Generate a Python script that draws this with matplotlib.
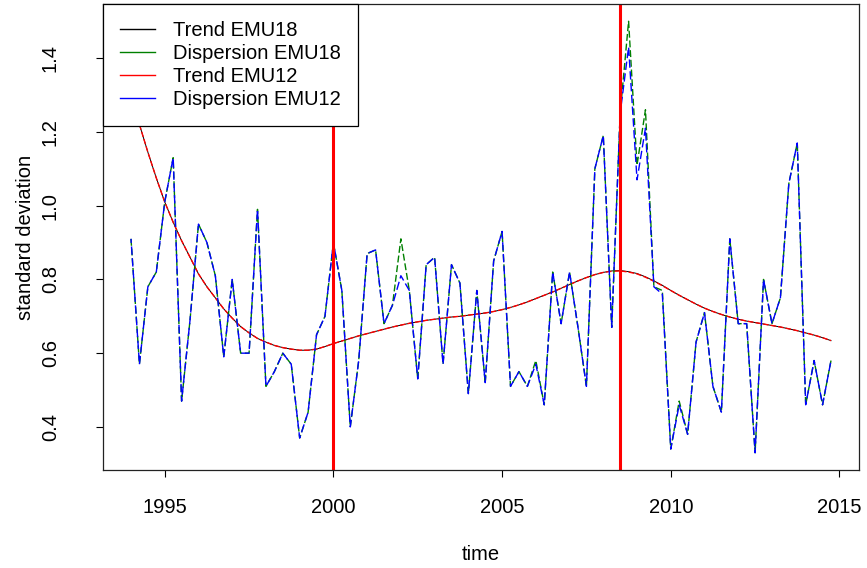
import numpy as np
import matplotlib.pyplot as plt
from matplotlib.lines import Line2D

plt.rcParams["font.family"] = ["Liberation Sans", "DejaVu Sans"]

# quarterly series, 1994Q1 .. 2014Q4
time = np.arange(1994, 2015, 0.25)

disp_emu12 = [
    0.91, 0.57, 0.78, 0.82,   # 1994
    1.01, 1.13, 0.47, 0.69,   # 1995
    0.95, 0.90, 0.81, 0.59,   # 1996
    0.80, 0.60, 0.60, 0.99,   # 1997
    0.51, 0.55, 0.60, 0.57,   # 1998
    0.37, 0.44, 0.65, 0.70,   # 1999
    0.90, 0.77, 0.40, 0.58,   # 2000
    0.87, 0.88, 0.68, 0.73,   # 2001
    0.81, 0.77, 0.53, 0.84,   # 2002
    0.86, 0.57, 0.84, 0.79,   # 2003
    0.49, 0.77, 0.52, 0.85,   # 2004
    0.93, 0.51, 0.55, 0.51,   # 2005
    0.57, 0.46, 0.82, 0.68,   # 2006
    0.82, 0.67, 0.51, 1.10,   # 2007
    1.19, 0.67, 1.25, 1.43,   # 2008
    1.07, 1.21, 0.78, 0.76,   # 2009
    0.34, 0.46, 0.38, 0.63,   # 2010
    0.71, 0.51, 0.44, 0.91,   # 2011
    0.68, 0.68, 0.33, 0.80,   # 2012
    0.68, 0.75, 1.06, 1.17,   # 2013
    0.46, 0.58, 0.46, 0.58,   # 2014
]

disp_emu18 = [
    0.91, 0.57, 0.78, 0.82,
    1.01, 1.13, 0.47, 0.69,
    0.95, 0.90, 0.81, 0.59,
    0.80, 0.60, 0.60, 0.99,
    0.51, 0.55, 0.60, 0.57,
    0.37, 0.44, 0.65, 0.70,
    0.90, 0.77, 0.40, 0.58,
    0.87, 0.88, 0.68, 0.73,
    0.91, 0.77, 0.53, 0.84,
    0.86, 0.57, 0.84, 0.79,
    0.49, 0.77, 0.52, 0.85,
    0.93, 0.51, 0.55, 0.51,
    0.58, 0.46, 0.82, 0.68,
    0.82, 0.67, 0.51, 1.10,
    1.19, 0.67, 1.25, 1.50,
    1.11, 1.26, 0.78, 0.77,
    0.34, 0.47, 0.38, 0.63,
    0.71, 0.51, 0.44, 0.91,
    0.68, 0.68, 0.33, 0.80,
    0.68, 0.75, 1.06, 1.17,
    0.46, 0.58, 0.46, 0.58,
]

trend_emu12 = [
    1.300, 1.220, 1.145, 1.075,
    1.010, 0.955, 0.905, 0.860,
    0.815, 0.780, 0.750, 0.720,
    0.695, 0.672, 0.655, 0.640,
    0.630, 0.621, 0.615, 0.611,
    0.608, 0.608, 0.611, 0.618,
    0.626, 0.633, 0.640, 0.647,
    0.653, 0.659, 0.665, 0.671,
    0.676, 0.681, 0.685, 0.689,
    0.692, 0.695, 0.698, 0.700,
    0.703, 0.706, 0.709, 0.713,
    0.718, 0.724, 0.731, 0.739,
    0.748, 0.757, 0.766, 0.776,
    0.786, 0.796, 0.805, 0.813,
    0.819, 0.822, 0.823, 0.820,
    0.815, 0.806, 0.795, 0.783,
    0.770, 0.757, 0.745, 0.733,
    0.722, 0.713, 0.705, 0.698,
    0.692, 0.687, 0.683, 0.679,
    0.675, 0.671, 0.666, 0.661,
    0.655, 0.649, 0.642, 0.634,
]

trend_emu18 = [
    1.300, 1.220, 1.145, 1.075,
    1.010, 0.955, 0.905, 0.860,
    0.815, 0.780, 0.750, 0.720,
    0.695, 0.672, 0.655, 0.640,
    0.630, 0.621, 0.615, 0.611,
    0.608, 0.608, 0.611, 0.618,
    0.626, 0.633, 0.640, 0.647,
    0.653, 0.659, 0.665, 0.671,
    0.676, 0.681, 0.685, 0.689,
    0.692, 0.695, 0.698, 0.700,
    0.703, 0.706, 0.709, 0.713,
    0.718, 0.724, 0.731, 0.739,
    0.748, 0.757, 0.766, 0.776,
    0.786, 0.796, 0.805, 0.813,
    0.819, 0.823, 0.824, 0.821,
    0.816, 0.807, 0.796, 0.784,
    0.770, 0.757, 0.745, 0.733,
    0.722, 0.713, 0.705, 0.698,
    0.692, 0.687, 0.683, 0.679,
    0.675, 0.671, 0.666, 0.661,
    0.655, 0.649, 0.642, 0.634,
]

breaks = [2000, 2008.5]

FS = 14.5

fig = plt.figure(figsize=(8.67, 5.68), dpi=100)
ax = fig.add_axes([103 / 867, 98 / 568, 756 / 867, 466 / 568])

ax.plot(time, trend_emu18, color="black", lw=0.7)
ax.plot(time, trend_emu12, color="red", lw=1.0, linestyle=(0, (4, 1.5)))
ax.plot(time, disp_emu18, color="green", lw=1.0, linestyle=(0, (5, 2)))
ax.plot(time, disp_emu12, color="blue", lw=1.0, linestyle=(3, (6, 2.5)))

for b in breaks:
    ax.axvline(b, color="red", lw=2.2)

# R style 4% padding around the data
lo = min(min(disp_emu12), min(disp_emu18))
hi = max(max(disp_emu12), max(disp_emu18), max(trend_emu12))
ax.set_ylim(lo - 0.04 * (hi - lo), hi + 0.04 * (hi - lo))
ax.set_xlim(time[0] - 0.04 * (time[-1] - time[0]), time[-1] + 0.04 * (time[-1] - time[0]))

ax.set_xticks([1995, 2000, 2005, 2010, 2015])
ax.set_xticklabels(["1995", "2000", "2005", "2010", "2015"])
ax.set_yticks([0.4, 0.6, 0.8, 1.0, 1.2, 1.4])
ax.set_yticklabels(["0.4", "0.6", "0.8", "1.0", "1.2", "1.4"], rotation=90, va="center")

ax.tick_params(direction="out", length=5, width=0.8, labelsize=FS, colors="black")
ax.tick_params(axis="x", pad=15)
ax.tick_params(axis="y", pad=26)
for s in ax.spines.values():
    s.set_linewidth(0.9)
    s.set_color("#222222")

ax.set_xlabel("time", fontsize=FS, labelpad=20)
ax.set_ylabel("standard deviation", fontsize=FS, labelpad=4)

handles = [
    Line2D([], [], color="black", lw=1.0),
    Line2D([], [], color="green", lw=1.0),
    Line2D([], [], color="red", lw=1.0),
    Line2D([], [], color="blue", lw=1.0),
]
labels = ["Trend EMU18", "Dispersion EMU18", "Trend EMU12", "Dispersion EMU12"]
leg = ax.legend(handles, labels, loc="upper left", fontsize=FS, frameon=True,
                fancybox=False, borderaxespad=0, borderpad=0.85, labelspacing=0.2,
                handlelength=1.75, handletextpad=0.9)
leg.get_frame().set_edgecolor("black")
leg.get_frame().set_linewidth(0.9)
leg.get_frame().set_alpha(1)

fig.savefig("out.png", dpi=100)
